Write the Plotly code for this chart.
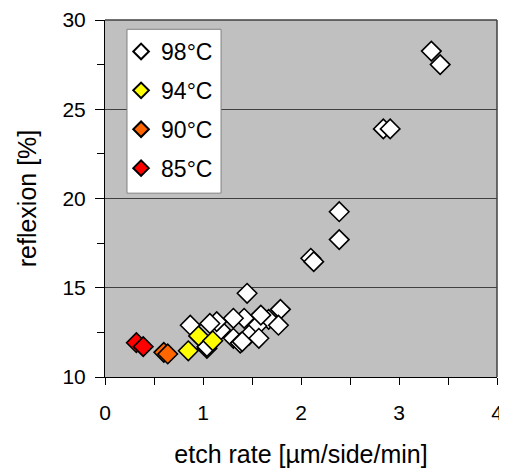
import plotly.graph_objects as go

# 98°C
x98 = [3.33, 3.42, 2.39, 2.39, 2.10, 2.13, 2.84, 2.91, 1.45, 1.79, 1.67, 1.77, 1.55, 1.47,
       1.57, 1.42, 1.31, 1.18, 1.31, 1.38, 0.87, 1.14, 1.04, 1.59, 1.07, 1.04, 1.40]
y98 = [28.26, 27.50, 19.26, 17.70, 16.65, 16.46, 23.90, 23.90, 14.69, 13.79, 13.23, 12.90, 12.86, 12.35,
       12.17, 13.29, 13.29, 12.63, 12.17, 11.90, 12.90, 13.10, 11.60, 13.47, 13.00, 11.70, 11.98]
# 94°C
x94 = [0.955, 1.10, 0.85]
y94 = [12.30, 12.03, 11.47]
# 90°C
x90 = [0.60, 0.64]
y90 = [11.38, 11.29]
# 85°C
x85 = [0.32, 0.39]
y85 = [11.92, 11.70]

series = [
    ("98°C", x98, y98, "#FFFFFF"),
    ("94°C", x94, y94, "#FFFF00"),
    ("90°C", x90, y90, "#FF6600"),
    ("85°C", x85, y85, "#FF0000"),
]

fig = go.Figure()
for i, (name, xs, ys, col) in enumerate(series):
    fig.add_trace(go.Scatter(
        x=xs, y=ys, mode="markers", name=name, legendgroup=name,
        marker=dict(symbol="diamond", size=15, color=col,
                    line=dict(color="#000000", width=1.6)),
    ))

# page body has an 8px margin, so the figure is sized/offset to compensate
fig.update_layout(
    width=499, height=464,
    margin=dict(l=97, r=10, t=12, b=95),
    paper_bgcolor="#FFFFFF",
    plot_bgcolor="#C0C0C0",
    font=dict(family="Liberation Sans, Arial, sans-serif", size=21, color="#000000"),
    showlegend=True,
    legend=dict(
        x=0.041, y=0.972, xanchor="left", yanchor="top",
        bgcolor="rgba(0,0,0,0)", borderwidth=0,
        font=dict(size=23), tracegroupgap=6, itemsizing="constant",
    ),
    xaxis=dict(
        range=[0, 4], tickvals=[0, 1, 2, 3, 4], showgrid=False, zeroline=False,
        showline=True, linecolor="#000000", linewidth=1, mirror=False, automargin=False,
        ticks="outside", ticklen=7, tickcolor="#000000", ticklabelstandoff=10,
        minor=dict(dtick=0.5, ticks="outside", ticklen=7, tickcolor="#000000", showgrid=False),
        title=dict(text="etch rate [µm/side/min]", standoff=22),
    ),
    yaxis=dict(
        range=[10, 30], tickvals=[10, 15, 20, 25, 30], showgrid=True, gridcolor="#404040", gridwidth=1,
        zeroline=False, showline=True, linecolor="#000000", linewidth=1, automargin=False,
        ticks="outside", ticklen=9, tickcolor="#000000", ticklabelstandoff=5,
        minor=dict(dtick=2.5, ticks="outside", ticklen=7, tickcolor="#000000", showgrid=False),
        title=dict(text="reflexion [%]", standoff=18),
    ),
)
# top/right frame
fig.add_shape(type="line", xref="paper", yref="paper", x0=0, x1=1, y0=1, y1=1,
              line=dict(color="#404040", width=1.5))
fig.add_shape(type="line", xref="paper", yref="paper", x0=1, x1=1, y0=0, y1=1,
              line=dict(color="#404040", width=1.5))
# legend box
fig.add_shape(type="rect", xref="paper", yref="paper", x0=0.0561, x1=0.296, y0=0.515, y1=0.974,
              fillcolor="#FFFFFF", line=dict(color="#808080", width=1), layer="above")

fig.write_html("out.html")
